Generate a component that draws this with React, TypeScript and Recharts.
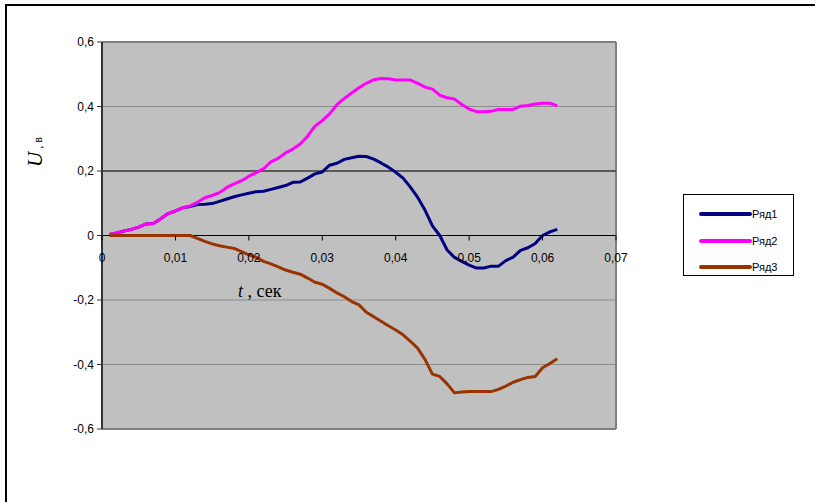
import { LineChart, Line, XAxis, YAxis, CartesianGrid, ReferenceLine, Legend, Label } from 'recharts';

const time = [
  0.001, 0.002, 0.003, 0.004, 0.005, 0.006, 0.007, 0.008, 0.009, 0.01,
  0.011, 0.012, 0.013, 0.014, 0.015, 0.016, 0.017, 0.018, 0.019, 0.02,
  0.021, 0.022, 0.023, 0.024, 0.025, 0.026, 0.027, 0.028, 0.029, 0.03,
  0.031, 0.032, 0.033, 0.034, 0.035, 0.036, 0.037, 0.038, 0.039, 0.04,
  0.041, 0.042, 0.043, 0.044, 0.045, 0.046, 0.047, 0.048, 0.049, 0.05,
  0.051, 0.052, 0.053, 0.054, 0.055, 0.056, 0.057, 0.058, 0.059, 0.06,
  0.061, 0.062,
];

const row1 = [
  0.003, 0.008, 0.014, 0.019, 0.026, 0.036, 0.037, 0.052, 0.068, 0.076,
  0.086, 0.09, 0.096, 0.097, 0.099, 0.106, 0.113, 0.12, 0.126, 0.131,
  0.136, 0.137, 0.143, 0.149, 0.155, 0.165, 0.166, 0.178, 0.191, 0.197,
  0.218, 0.224, 0.236, 0.241, 0.246, 0.245, 0.237, 0.225, 0.212, 0.196,
  0.178, 0.15, 0.118, 0.078, 0.03, 0.0, -0.045, -0.068, -0.08, -0.092,
  -0.101, -0.101, -0.095, -0.095, -0.078, -0.067, -0.046, -0.038, -0.025, 0.0,
  0.011, 0.019,
];

const row2 = [
  0.003, 0.008, 0.014, 0.019, 0.026, 0.036, 0.037, 0.052, 0.068, 0.076,
  0.086, 0.092, 0.103, 0.117, 0.124, 0.133, 0.149, 0.16, 0.17, 0.184,
  0.195, 0.207, 0.228, 0.239, 0.256, 0.268, 0.284, 0.308, 0.339, 0.356,
  0.377, 0.406, 0.425, 0.442, 0.458, 0.472, 0.483, 0.487, 0.486, 0.482,
  0.482, 0.482, 0.472, 0.46, 0.454, 0.435, 0.427, 0.423, 0.406, 0.392,
  0.384, 0.384, 0.385, 0.391, 0.391, 0.391, 0.401, 0.403, 0.408, 0.41,
  0.41, 0.402,
];

const row3 = [
  0, 0, 0, 0, 0, 0, 0, 0, 0, 0,
  0, 0, -0.009, -0.018, -0.026, -0.032, -0.036, -0.04, -0.05, -0.06,
  -0.068, -0.08, -0.088, -0.097, -0.107, -0.114, -0.12, -0.132, -0.145, -0.151,
  -0.164, -0.178, -0.19, -0.205, -0.215, -0.238, -0.252, -0.266, -0.28, -0.293,
  -0.308, -0.328, -0.35, -0.385, -0.43, -0.437, -0.46, -0.488, -0.485, -0.484,
  -0.484, -0.484, -0.484, -0.477, -0.467, -0.455, -0.447, -0.44, -0.437, -0.41,
  -0.397, -0.382,
];

const xTicks = [0, 0.01, 0.02, 0.03, 0.04, 0.05, 0.06, 0.07];
const yTicks = [-0.6, -0.4, -0.2, 0, 0.2, 0.4, 0.6];

const series = [
  { key: 'r1', name: 'Ряд1', color: '#000080' },
  { key: 'r2', name: 'Ряд2', color: '#FF00FF' },
  { key: 'r3', name: 'Ряд3', color: '#993300' },
];

const data = time.map((t, i) => ({ t, r1: row1[i], r2: row2[i], r3: row3[i] }));

const fmt = (v: number) => (v === 0 ? '0' : String(Number(v.toFixed(2))).replace('.', ','));

// plot box
const PLOT_TOP = 42;
const PLOT_H = 387;
const ZERO_Y = PLOT_TOP + PLOT_H / 2;
const LEGEND_W = 111;

function XTick(props: any) {
  const { x, payload } = props;
  return (
    <g>
      <line x1={x} x2={x} y1={ZERO_Y} y2={ZERO_Y + 5} stroke="#000" />
      <text x={x} y={ZERO_Y + 26} textAnchor="middle" fontFamily="Arial, 'Liberation Sans'" fontSize={12} fill="#000">
        {fmt(payload.value)}
      </text>
    </g>
  );
}

function LegendBox(props: any) {
  const { payload } = props;
  return (
    <div style={{ width: LEGEND_W, height: 82, border: '1px solid #000', background: '#fff', boxSizing: 'border-box', paddingTop: 6 }}>
      {payload.map((p: any) => (
        <div key={p.value} style={{ display: 'flex', alignItems: 'center', height: 26.5 }}>
          <svg width={68} height={8}>
            <line x1={17} x2={66} y1={4} y2={4} stroke={p.color} strokeWidth={4} strokeLinecap="round" />
          </svg>
          <span style={{ fontFamily: "Arial, 'Liberation Sans'", fontSize: 11, color: '#000' }}>{p.value}</span>
        </div>
      ))}
    </div>
  );
}

export default function App() {
  return (
    <div style={{ position: 'relative', width: 815, height: 502, background: '#fff' }}>
      <style>{'body{margin:0}'}</style>
      <div style={{ position: 'absolute', left: 5, top: 4, width: 815, height: 502, borderLeft: '2px solid #000', borderTop: '2px solid #000' }} />
      <div style={{ position: 'absolute', left: 0, top: 0 }}>
        <LineChart width={815} height={502} data={data} margin={{ top: PLOT_TOP, right: 199 - LEGEND_W, bottom: 43, left: 42 }}>
          <CartesianGrid vertical={false} fill="#C0C0C0" stroke="#8C8C8C" horizontalValues={[-0.4, -0.2, 0.4]} />
          <XAxis
            dataKey="t"
            type="number"
            domain={[0, 0.07]}
            ticks={xTicks}
            interval={0}
            height={30}
            axisLine={{ stroke: '#808080', strokeWidth: 2 }}
            tickLine={false}
            tick={<XTick />}
          >
            <Label
              content={() => (
                <text x={238} y={297} fontFamily="'Liberation Serif', 'Times New Roman', serif" fontSize={18} fill="#000">
                  <tspan fontStyle="italic">t</tspan>
                  <tspan> , сек</tspan>
                </text>
              )}
            />
          </XAxis>
          <YAxis
            type="number"
            domain={[-0.6, 0.6]}
            ticks={yTicks}
            interval={0}
            width={60}
            axisLine={{ stroke: '#333', strokeWidth: 2 }}
            tickLine={{ stroke: '#333' }}
            tickSize={5}
            tickMargin={3}
            tick={{ fontFamily: "Arial, 'Liberation Sans'", fontSize: 12, fill: '#000' }}
            tickFormatter={fmt}
          >
            <Label
              content={() => (
                <text
                  x={42}
                  y={152}
                  transform="rotate(-90, 42, 152)"
                  textAnchor="middle"
                  fontFamily="'Liberation Serif', 'Times New Roman', serif"
                  fill="#000"
                >
                  <tspan fontStyle="italic" fontSize={21}>U</tspan>
                  <tspan fontSize={12}> , в</tspan>
                </text>
              )}
            />
          </YAxis>
          <ReferenceLine y={0.6} stroke="#808080" strokeWidth={2} />
          <ReferenceLine x={0.07} stroke="#808080" strokeWidth={2} />
          <ReferenceLine y={0.2} stroke="#5A5A5A" strokeWidth={2} />
          <ReferenceLine y={0} stroke="#000" strokeWidth={1} />
          <Legend
            content={<LegendBox />}
            layout="vertical"
            align="right"
            verticalAlign="middle"
            wrapperStyle={{ position: 'absolute', left: 683, top: 194, width: LEGEND_W, height: 82 }}
          />
          {series.map((s) => (
            <Line
              key={s.key}
              type="linear"
              dataKey={s.key}
              name={s.name}
              stroke={s.color}
              strokeWidth={3}
              strokeLinejoin="round"
              dot={false}
              isAnimationActive={false}
            />
          ))}
        </LineChart>
      </div>
    </div>
  );
}
